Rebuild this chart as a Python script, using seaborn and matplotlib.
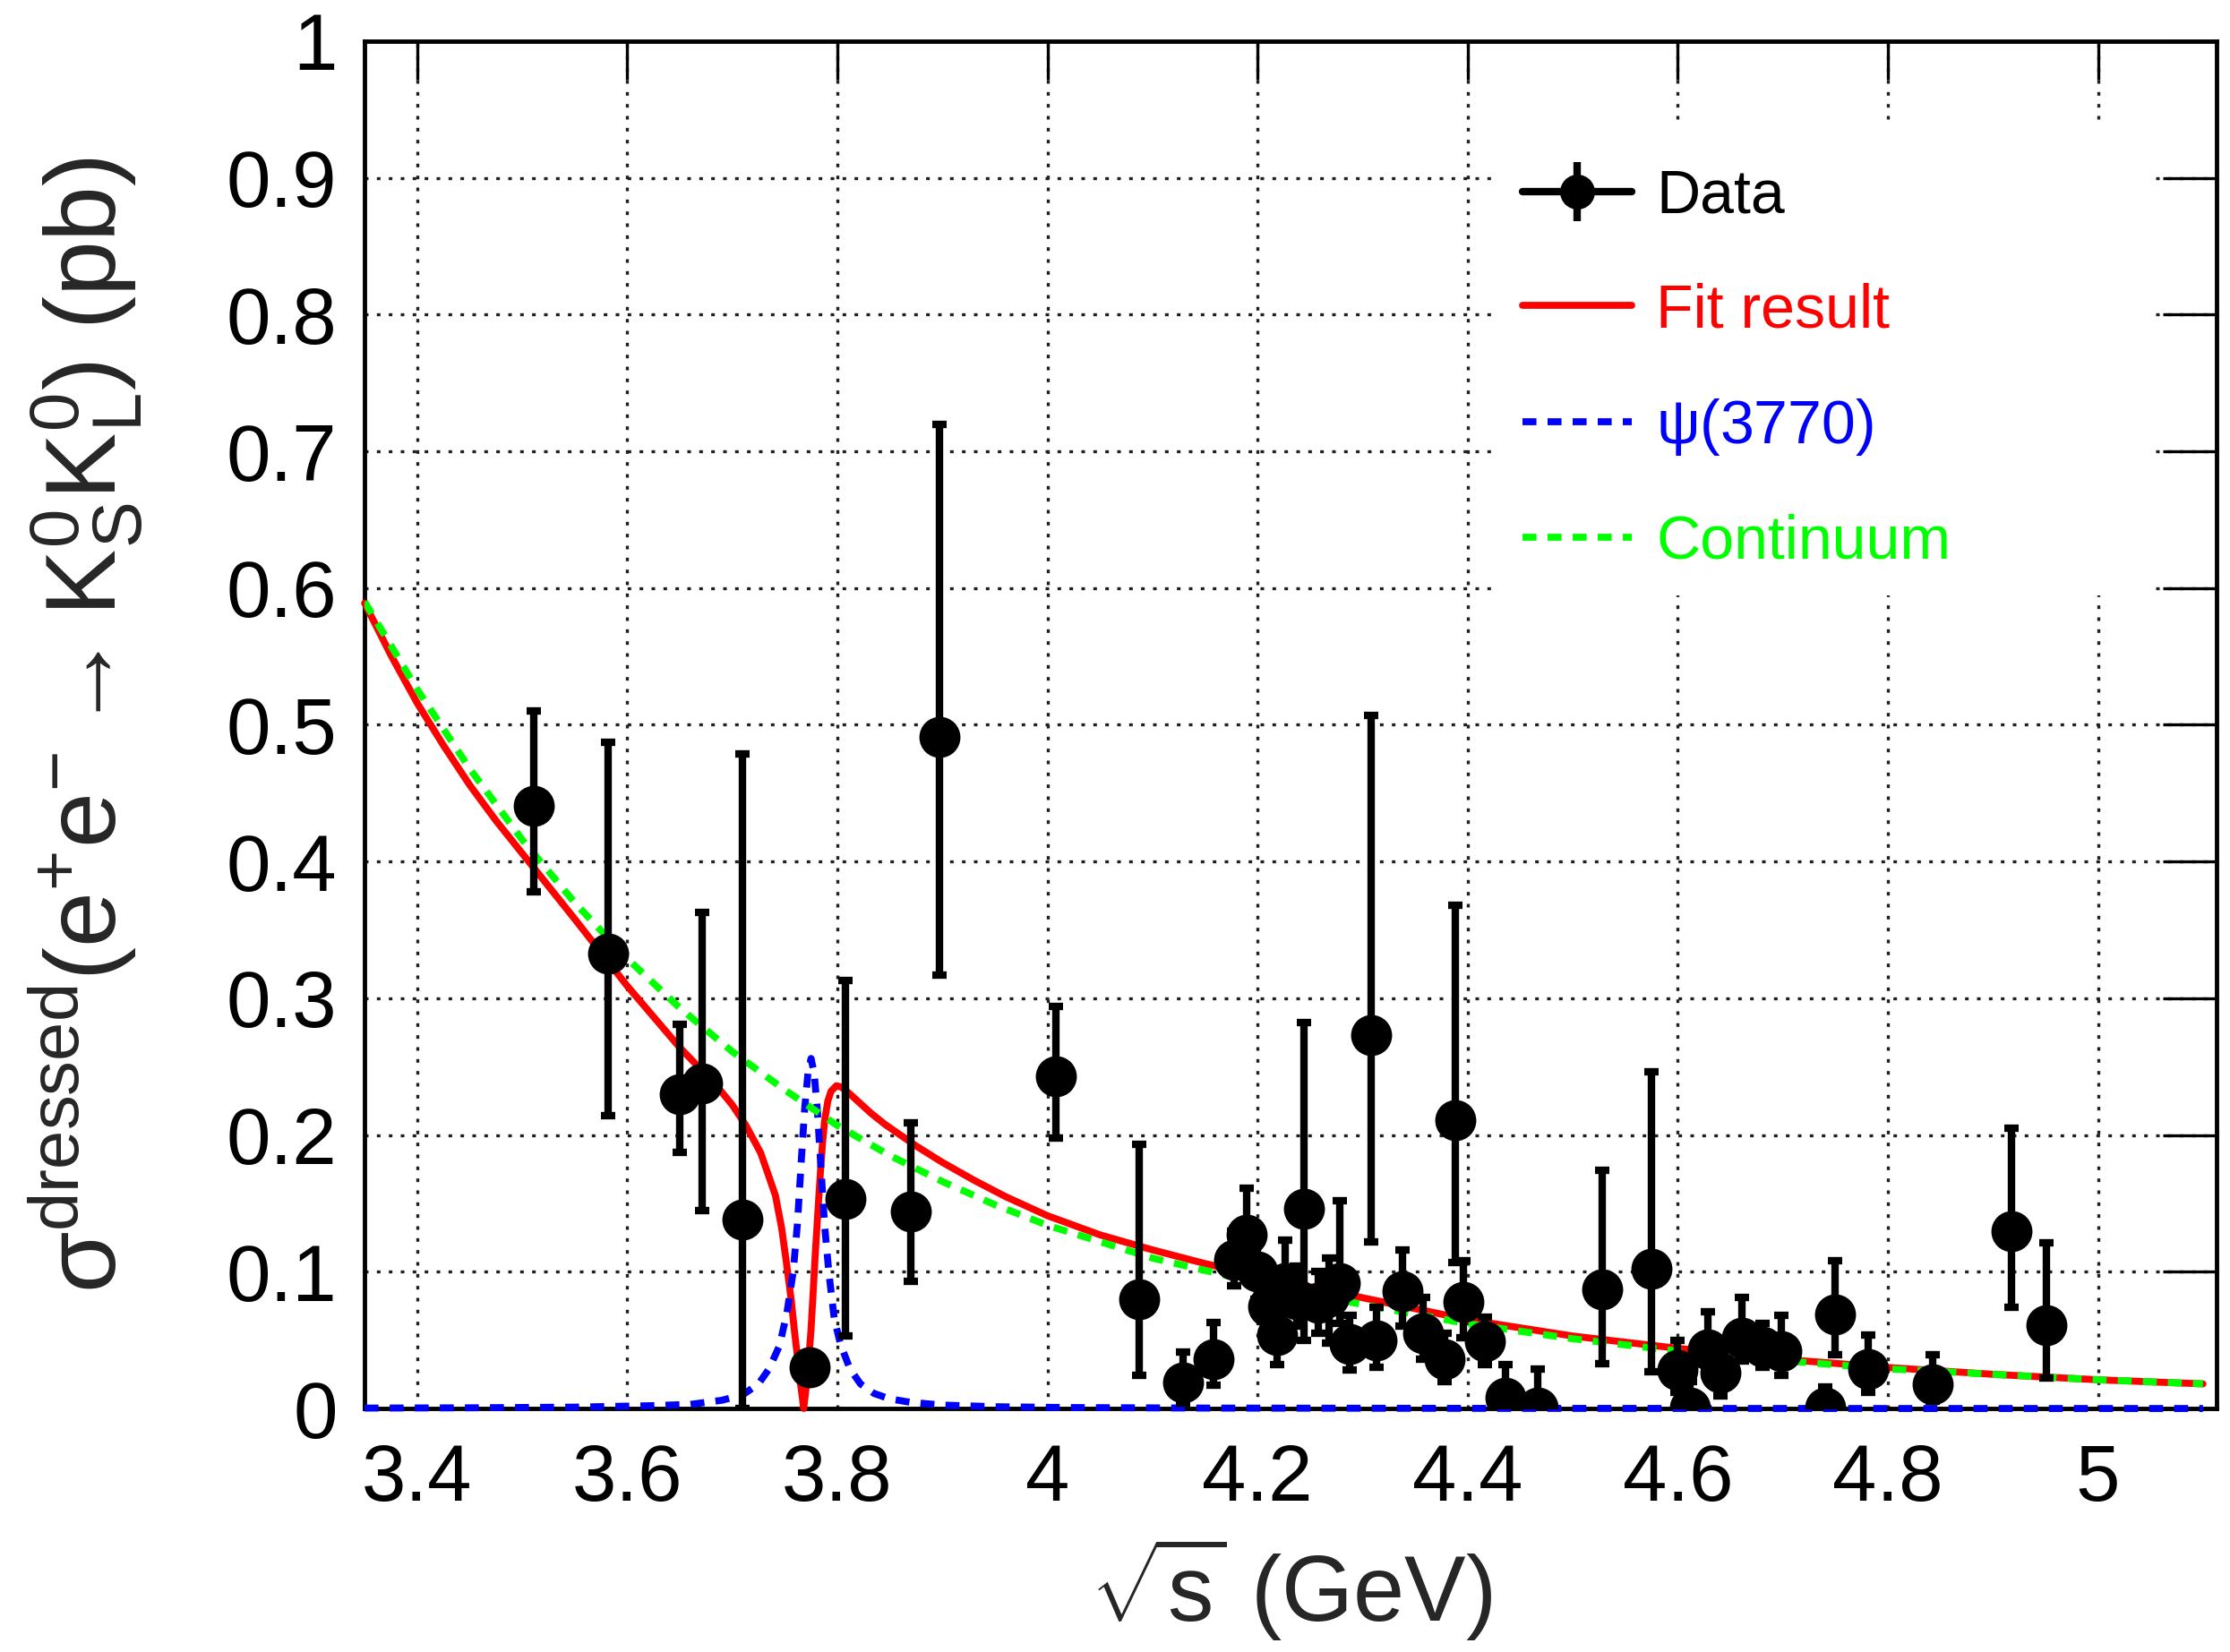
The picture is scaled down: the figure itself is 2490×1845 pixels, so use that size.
import numpy as np
import pandas as pd
import matplotlib
matplotlib.use("Agg")
import matplotlib.pyplot as plt
import seaborn as sns
from matplotlib.lines import Line2D
from matplotlib.patches import Rectangle
from matplotlib.legend_handler import HandlerTuple

# ---------------- data ----------------
data_x = [3.511, 3.582, 3.650, 3.671, 3.710, 3.774, 3.808, 3.870, 3.897, 4.008,
          4.087, 4.129, 4.158, 4.178, 4.190, 4.200, 4.210, 4.219, 4.226, 4.237,
          4.244, 4.258, 4.268, 4.278, 4.288, 4.308, 4.313, 4.338, 4.358, 4.378,
          4.388, 4.396, 4.416, 4.436, 4.467, 4.528, 4.575, 4.600, 4.612, 4.629,
          4.641, 4.661, 4.681, 4.699, 4.740, 4.750, 4.781, 4.843, 4.918, 4.951]
data_y = [0.441, 0.333, 0.230, 0.238, 0.138, 0.030, 0.153, 0.144, 0.491, 0.243,
          0.080, 0.019, 0.036, 0.109, 0.127, 0.100, 0.075, 0.054, 0.092, 0.080,
          0.146, 0.077, 0.082, 0.092, 0.047, 0.273, 0.050, 0.086, 0.055, 0.036,
          0.211, 0.078, 0.049, 0.008, 0.001, 0.087, 0.102, 0.028, 0.001, 0.043,
          0.026, 0.052, 0.045, 0.042, 0.001, 0.069, 0.029, 0.018, 0.130, 0.061]
data_lo = [0.378, 0.214, 0.187, 0.145, 0.000, 0.022, 0.053, 0.093, 0.317, 0.198,
           0.024, 0.004, 0.017, 0.090, 0.100, 0.080, 0.057, 0.032, 0.070, 0.060,
           0.050, 0.055, 0.048, 0.062, 0.028, 0.122, 0.030, 0.060, 0.036, 0.020,
           0.107, 0.052, 0.032, 0.000, 0.000, 0.033, 0.027, 0.012, 0.000, 0.025,
           0.009, 0.035, 0.030, 0.024, 0.000, 0.039, 0.012, 0.005, 0.074, 0.022]
data_hi = [0.510, 0.487, 0.281, 0.363, 0.479, 0.038, 0.313, 0.209, 0.720, 0.294,
           0.193, 0.041, 0.063, 0.130, 0.161, 0.122, 0.095, 0.075, 0.123, 0.104,
           0.282, 0.100, 0.110, 0.152, 0.068, 0.507, 0.074, 0.116, 0.081, 0.055,
           0.368, 0.108, 0.067, 0.032, 0.029, 0.174, 0.246, 0.050, 0.020, 0.071,
           0.045, 0.081, 0.062, 0.068, 0.016, 0.108, 0.054, 0.039, 0.205, 0.121]

fit_x = [3.35, 3.375, 3.40, 3.425, 3.45, 3.475, 3.50, 3.55, 3.60, 3.65, 3.684, 3.70,
         3.713, 3.727, 3.741, 3.747, 3.752, 3.756, 3.759, 3.762, 3.765, 3.768, 3.771,
         3.773, 3.775, 3.777, 3.779, 3.782, 3.784, 3.786, 3.788, 3.791, 3.794, 3.799,
         3.804, 3.812, 3.822, 3.832, 3.845, 3.860, 3.875, 3.90, 3.93, 3.96, 4.00,
         4.05, 4.10, 4.15, 4.20, 4.30, 4.40, 4.50, 4.60, 4.70, 4.80, 4.90, 5.00, 5.10]
fit_y = [0.589, 0.551, 0.516, 0.485, 0.456, 0.430, 0.406, 0.358, 0.309, 0.264, 0.237, 0.222,
         0.207, 0.187, 0.156, 0.132, 0.104, 0.080, 0.058, 0.038, 0.018, 0.000, 0.020,
         0.038, 0.058, 0.085, 0.113, 0.150, 0.174, 0.195, 0.211, 0.225, 0.232, 0.236,
         0.235, 0.230, 0.223, 0.216, 0.208, 0.200, 0.192, 0.180, 0.167, 0.155, 0.141,
         0.127, 0.116, 0.106, 0.097, 0.081, 0.065, 0.053, 0.044, 0.036, 0.030, 0.025, 0.021, 0.018]

psi_x = [3.35, 3.45, 3.55, 3.62, 3.66, 3.69, 3.71, 3.725, 3.735, 3.745, 3.752, 3.758,
         3.762, 3.766, 3.769, 3.772, 3.775, 3.778, 3.781, 3.784, 3.788, 3.792, 3.797,
         3.803, 3.812, 3.822, 3.835, 3.85, 3.87, 3.90, 3.95, 4.02, 4.15, 4.4, 4.8, 5.1]
psi_y = [0.0003, 0.0005, 0.001, 0.002, 0.003, 0.006, 0.010, 0.018, 0.029, 0.046, 0.070, 0.100,
         0.135, 0.185, 0.220, 0.245, 0.256, 0.245, 0.218, 0.181, 0.133, 0.099, 0.066,
         0.047, 0.029, 0.018, 0.011, 0.007, 0.0045, 0.0025, 0.0013, 0.0007, 0.0003, 0.0001, 0.0, 0.0]

cont_x = [3.35, 3.40, 3.45, 3.50, 3.55, 3.60, 3.65, 3.70, 3.75, 3.80, 3.85, 3.90, 3.95,
          4.00, 4.10, 4.20, 4.30, 4.40, 4.50, 4.60, 4.70, 4.80, 4.90, 5.00, 5.10]
cont_y = [0.590, 0.526, 0.468, 0.416, 0.370, 0.329, 0.293, 0.261, 0.233, 0.207, 0.185, 0.166, 0.149,
          0.134, 0.110, 0.092, 0.076, 0.062, 0.051, 0.042, 0.035, 0.029, 0.025, 0.021, 0.018]

x_ticks = [3.4, 3.6, 3.8, 4.0, 4.2, 4.4, 4.6, 4.8, 5.0]
x_tick_labels = ["3.4", "3.6", "3.8", "4", "4.2", "4.4", "4.6", "4.8", "5"]
y_ticks = [0.0, 0.1, 0.2, 0.3, 0.4, 0.5, 0.6, 0.7, 0.8, 0.9, 1.0]
y_tick_labels = ["0", "0.1", "0.2", "0.3", "0.4", "0.5", "0.6", "0.7", "0.8", "0.9", "1"]

legend_labels = ["Data", "Fit result", r"$\psi$(3770)", "Continuum"]
legend_colors = ["#000000", "#ff0000", "#0000ff", "#00ff00"]

# ---------------- style ----------------
sns.set_style("white")
plt.rcParams["font.family"] = ["Liberation Sans", "DejaVu Sans"]
plt.rcParams["mathtext.fontset"] = "custom"
plt.rcParams["mathtext.rm"] = "Liberation Sans"
plt.rcParams["mathtext.it"] = "Liberation Sans:italic"
plt.rcParams["mathtext.bf"] = "Liberation Sans:bold"
plt.rcParams["mathtext.sf"] = "Liberation Sans"
plt.rcParams["mathtext.default"] = "regular"

fig = plt.figure(figsize=(24.9, 18.45), dpi=100)
ax = fig.add_axes([0.1635, 0.1474, 0.8305, 0.8277])

RED, BLUE, GREEN = legend_colors[1], legend_colors[2], legend_colors[3]
LW = 5.6
dash = (0, (2.0, 1.6))

fit_df = pd.DataFrame({"x": fit_x, "y": fit_y})
psi_df = pd.DataFrame({"x": psi_x, "y": psi_y})
cont_df = pd.DataFrame({"x": cont_x, "y": cont_y})

sns.lineplot(data=fit_df, x="x", y="y", ax=ax, color=RED, linewidth=LW,
             estimator=None, sort=False, legend=False, zorder=3)
ax.lines[-1].set_clip_on(False)
sns.lineplot(data=psi_df, x="x", y="y", ax=ax, color=BLUE, linewidth=LW,
             estimator=None, sort=False, legend=False, zorder=3.1)
ax.lines[-1].set_linestyle(dash)
ax.lines[-1].set_clip_on(False)
sns.lineplot(data=cont_df, x="x", y="y", ax=ax, color=GREEN, linewidth=LW,
             estimator=None, sort=False, legend=False, zorder=3.2)
ax.lines[-1].set_linestyle(dash)

dy = np.array(data_y)
yerr = [dy - np.array(data_lo), np.array(data_hi) - dy]
ax.errorbar(data_x, data_y, yerr=yerr, fmt="o", color="k", ms=32,
            elinewidth=6, capsize=5.5, capthick=6, zorder=4)

ax.set_xlim(3.35, 5.113)
ax.set_ylim(0, 1)
ax.set_xticks(x_ticks)
ax.set_xticklabels(x_tick_labels)
ax.set_yticks(y_ticks)
ax.set_yticklabels(y_tick_labels)
ax.tick_params(axis="both", which="major", direction="in", top=True, right=True,
               width=2.4, color="k", labelsize=64, labelcolor="k")
ax.tick_params(axis="x", length=31, pad=27)
ax.tick_params(axis="y", length=43, pad=22)
ax.minorticks_off()
ax.grid(True, color="0.12", linestyle=(0, (1.2, 2.8)), linewidth=2.4)
ax.set_axisbelow(True)
for sp in ax.spines.values():
    sp.set_visible(True)
    sp.set_linewidth(3.5)
    sp.set_color("k")

ax.set_xlabel(r"$\sqrt{s}$ (GeV)", fontsize=74)
ax.xaxis.set_label_coords(0.5, -0.093)
ax.set_ylabel(r"$\sigma^{dressed}(e^{+}e^{-}\rightarrow K^{0}_{S}K^{0}_{L})$ (pb)", fontsize=80)
ax.yaxis.set_label_coords(-0.118, 0.5)

# white legend box (no border) that hides the grid behind it
ax.add_patch(Rectangle((0.611, 0.5946), 0.9667 - 0.611, 0.9378 - 0.5946,
                       transform=ax.transAxes, facecolor="white", edgecolor="none",
                       zorder=2.6))

# legend
data_handle = (Line2D([], [], color="k", lw=6, marker="o", ms=27),
               Line2D([], [], color="k", ls="none", marker="|", ms=48, mew=6))
fit_handle = Line2D([], [], color=RED, lw=LW)
psi_handle = Line2D([], [], color=BLUE, lw=LW, ls=dash)
cont_handle = Line2D([], [], color=GREEN, lw=LW, ls=dash)
leg = ax.legend(handles=[data_handle, fit_handle, psi_handle, cont_handle],
                labels=legend_labels, handler_map={tuple: HandlerTuple(ndivide=1)},
                loc="upper left", bbox_to_anchor=(0.625, 0.907), frameon=False,
                fontsize=49, handlelength=1.8, handletextpad=0.4, labelspacing=0.93,
                borderpad=0, borderaxespad=0, numpoints=1)
leg.set_zorder(5)
for t, c in zip(leg.get_texts(), legend_colors):
    t.set_color(c)

fig.savefig("out.png", dpi=100, facecolor="white")
